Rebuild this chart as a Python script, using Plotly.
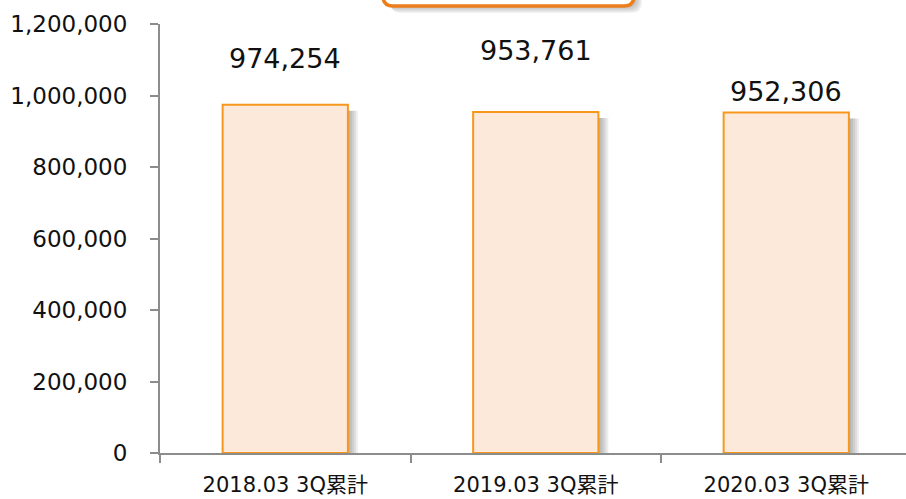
import plotly.graph_objects as go

# ---- data ----
categories = ["2018.03 3Q累計", "2019.03 3Q累計", "2020.03 3Q累計"]
values = [974254, 953761, 952306]
y_ticks = [0, 200000, 400000, 600000, 800000, 1000000, 1200000]
y_tick_labels = ["0", "200,000", "400,000", "600,000", "800,000", "1,000,000", "1,200,000"]

# ---- styling ----
label_shift_px = [46, 62, 21]          # manual label placement (pixels above bar top)
FONT = "DejaVu Sans, Verdana, Noto Sans CJK JP, sans-serif"
AXIS = "#8c8c8c"
BAR_FILL = "#FDE9DA"
BAR_LINE = "#F7981D"
W, H = 906, 499
ML, MR, MT, MB = 160, 0, 24, 46
plot_w = W - ML - MR
plot_h = H - MT - MB
x_range = [-0.5, 2.478]
px_x = (x_range[1] - x_range[0]) / plot_w      # data units per pixel (x)
px_y = 1200000 / plot_h                         # data units per pixel (y)

fig = go.Figure()

# soft shadow behind bars (several translucent layers shifted right)
for k in range(1, 6):
    fig.add_trace(go.Bar(
        x=categories,
        y=[v - 6 * px_y for v in values],
        width=0.5,
        offset=-0.25 + 2 * k * px_x,
        marker=dict(color="rgba(80,80,80,0.10)", line=dict(width=0)),
        hoverinfo="skip",
        showlegend=False,
    ))

fig.add_trace(go.Bar(
    x=categories,
    y=values,
    width=0.5,
    marker=dict(color=BAR_FILL, line=dict(color=BAR_LINE, width=2)),
    showlegend=False,
))

for c, v, s in zip(categories, values, label_shift_px):
    fig.add_annotation(
        x=c, y=v, xref="x", yref="y",
        text=f"{v:,}", showarrow=False,
        yanchor="middle", yshift=s,
        font=dict(family=FONT, size=27, color="#111111"),
    )

# orange rounded box at top (partially cut off) with shadow
bx0, bx1 = 383, 634
by_bottom = 6
r = 10
def px2paper_x(p):
    return (p - ML) / plot_w
def px2paper_y(p):
    return 1 + (MT - p) / plot_h

def rounded_path(x0, x1, yb, ytop, rad):
    X0, X1 = px2paper_x(x0), px2paper_x(x1)
    YB, YT = px2paper_y(yb), px2paper_y(ytop)
    rx = rad / plot_w
    ry = rad / plot_h
    return (f"M {X0},{YT} L {X0},{YB + ry} Q {X0},{YB} {X0 + rx},{YB} "
            f"L {X1 - rx},{YB} Q {X1},{YB} {X1},{YB + ry} L {X1},{YT} Z")

for k in range(1, 7):
    fig.add_shape(type="path", xref="paper", yref="paper",
                  path=rounded_path(bx0 + 2 + k, bx1 + 2 + k, by_bottom + 1 + k, -30, r),
                  fillcolor="rgba(100,100,100,0.07)", line=dict(width=0), layer="above")
fig.add_shape(type="path", xref="paper", yref="paper",
              path=rounded_path(bx0, bx1, by_bottom, -30, r),
              fillcolor="white", line=dict(color="#EE7D1C", width=3.5), layer="above")

fig.update_layout(
    width=W, height=H,
    margin=dict(l=ML, r=MR, t=MT, b=MB, autoexpand=False),
    barmode="overlay",
    plot_bgcolor="white", paper_bgcolor="white",
    font=dict(family=FONT, color="#111111"),
    showlegend=False,
)
fig.update_xaxes(
    type="category", range=x_range,
    showline=True, linecolor=AXIS, linewidth=2,
    ticks="outside", tickson="boundaries", ticklen=8, tickcolor=AXIS, tickwidth=2,
    showgrid=False, tickfont=dict(size=21, family=FONT, color="#111111"),
    ticklabelstandoff=12, automargin=False,
)
fig.update_yaxes(
    range=[0, 1200000], tickvals=y_ticks, ticktext=y_tick_labels,
    showline=True, linecolor=AXIS, linewidth=2,
    ticks="outside", ticklen=8, tickcolor=AXIS, tickwidth=2,
    showgrid=False, zeroline=False,
    tickfont=dict(size=23, family=FONT, color="#111111"),
    ticklabelstandoff=18, automargin=False,
)

fig.write_html("out.html", config={"displayModeBar": False},
               post_script="document.body.style.margin='0px';")
